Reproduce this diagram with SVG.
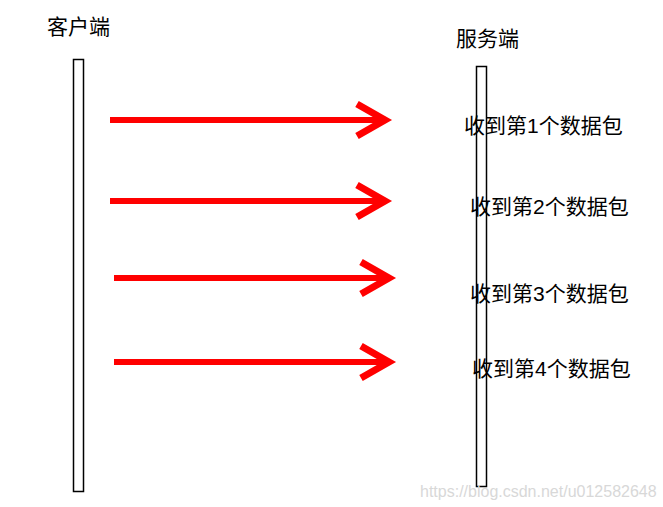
<svg xmlns="http://www.w3.org/2000/svg" width="663" height="507" viewBox="0 0 663 507">
<style>
.bar{fill:#fff;stroke:#000;stroke-width:1.5}
.shaft{stroke:#ff0000;stroke-width:6;fill:none}
.head{stroke:#ff0000;stroke-width:7;fill:none;stroke-linejoin:miter;stroke-miterlimit:10}
.t{font-family:"Liberation Sans","Noto Sans CJK SC",sans-serif;font-size:21px;fill:#000}
.wm{font-family:"Liberation Sans",sans-serif;font-size:16px;fill:#d8d8d8}
</style>
<rect width="663" height="507" fill="#fff"/>
<g id="client">
<rect class="bar" x="73.5" y="59.5" width="10" height="432"/>
<text class="t" x="47" y="34">客户端</text>
</g>
<g id="server">
<rect class="bar" x="476.5" y="66.5" width="10" height="420"/>
<text class="t" x="456" y="46">服务端</text>
</g>
<g id="connectors">
<line class="shaft" x1="110" y1="120" x2="382" y2="120"/>
<polyline class="head" points="357,104 385,120 357,136"/>
<line class="shaft" x1="110" y1="201" x2="382" y2="201"/>
<polyline class="head" points="357,185 385,201 357,217"/>
<line class="shaft" x1="114" y1="278" x2="386" y2="278"/>
<polyline class="head" points="361,262 389,278 361,294"/>
<line class="shaft" x1="114" y1="362" x2="386" y2="362"/>
<polyline class="head" points="361,346 389,362 361,378"/>
</g>
<g id="labels">
<text class="t" x="464" y="133">收到第1个数据包</text>
<text class="t" x="470" y="214">收到第2个数据包</text>
<text class="t" x="470" y="301">收到第3个数据包</text>
<text class="t" x="472" y="376">收到第4个数据包</text>
</g>
<text class="wm" x="420" y="497">https://blog.csdn.net/u012582648</text>
</svg>
